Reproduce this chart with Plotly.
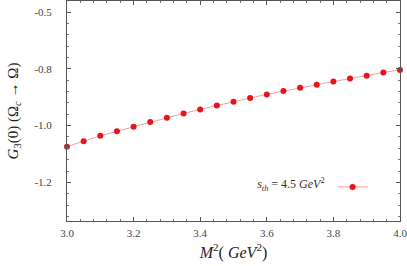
import plotly.graph_objects as go

m2 = [3.00, 3.05, 3.10, 3.15, 3.20, 3.25, 3.30, 3.35, 3.40, 3.45, 3.50,
      3.55, 3.60, 3.65, 3.70, 3.75, 3.80, 3.85, 3.90, 3.95, 4.00]
g3 = [-1.074, -1.055, -1.036, -1.020, -1.004, -0.987, -0.972, -0.957, -0.943, -0.929, -0.916,
      -0.903, -0.890, -0.878, -0.867, -0.856, -0.845, -0.834, -0.824, -0.813, -0.804]
x_ticks = [3.0, 3.2, 3.4, 3.6, 3.8, 4.0]
x_ticktext = ["3.0", "3.2", "3.4", "3.6", "3.8", "4.0"]
y_ticks = [-0.6, -0.8, -1.0, -1.2]
y_ticktext = ["-0.5", "-0.8", "-1.0", "-1.2"]
legend_label = "<i>s<sub>th</sub></i> = 4.5 <i>GeV</i><sup>2</sup>"

FONT = "Liberation Serif, Times New Roman, serif"

fig = go.Figure()
fig.add_trace(go.Scatter(
    x=m2, y=g3, mode="lines+markers", name="",
    line=dict(color="rgba(240,90,90,0.6)", width=1),
    marker=dict(color="#e8141a", size=6),
    cliponaxis=False,
))

axis_common = dict(
    showline=True, linecolor="#555", linewidth=1, mirror="allticks",
    ticks="inside", ticklen=4, tickcolor="#555", showgrid=False, zeroline=False,
    tickfont=dict(family=FONT, size=11, color="#444"), automargin=False,
    ticklabeloverflow="allow",
)

fig.update_xaxes(
    range=[3.0, 4.0], tickvals=x_ticks, ticktext=x_ticktext,
    minor=dict(dtick=0.04, ticks="inside", ticklen=2, tickcolor="#777", showgrid=False),
    title=dict(text="<i>M</i><sup>2</sup>( <i>GeV</i><sup>2</sup>)",
               font=dict(family=FONT, size=16, color="#222"), standoff=8),
    ticklabelstandoff=2,
    **axis_common,
)
fig.update_yaxes(
    range=[-1.336, -0.561], tickvals=y_ticks, ticktext=y_ticktext,
    minor=dict(dtick=0.04, tick0=-0.6, ticks="inside", ticklen=2, tickcolor="#777", showgrid=False),
    title=dict(text="<i>G</i><sub>3</sub>(0) (Ω<sub><i>c</i></sub> → Ω)",
               font=dict(family=FONT, size=15, color="#222"), standoff=12),
    ticklabelstandoff=12,
    **axis_common,
)

fig.update_layout(
    width=407, height=266,
    margin=dict(l=67, r=7, t=1, b=45, autoexpand=False),
    paper_bgcolor="white", plot_bgcolor="white",
    showlegend=True,
    legend=dict(
        x=0.565, y=0.155, xanchor="left", yanchor="middle",
        bgcolor="rgba(0,0,0,0)",
        title=dict(text=legend_label, side="left", font=dict(family=FONT, size=12, color="#333")),
        font=dict(family=FONT, size=11), itemwidth=30,
    ),
)

fig.write_html("out.html", config={"displayModeBar": False},
               post_script="document.body.style.margin='0';")
